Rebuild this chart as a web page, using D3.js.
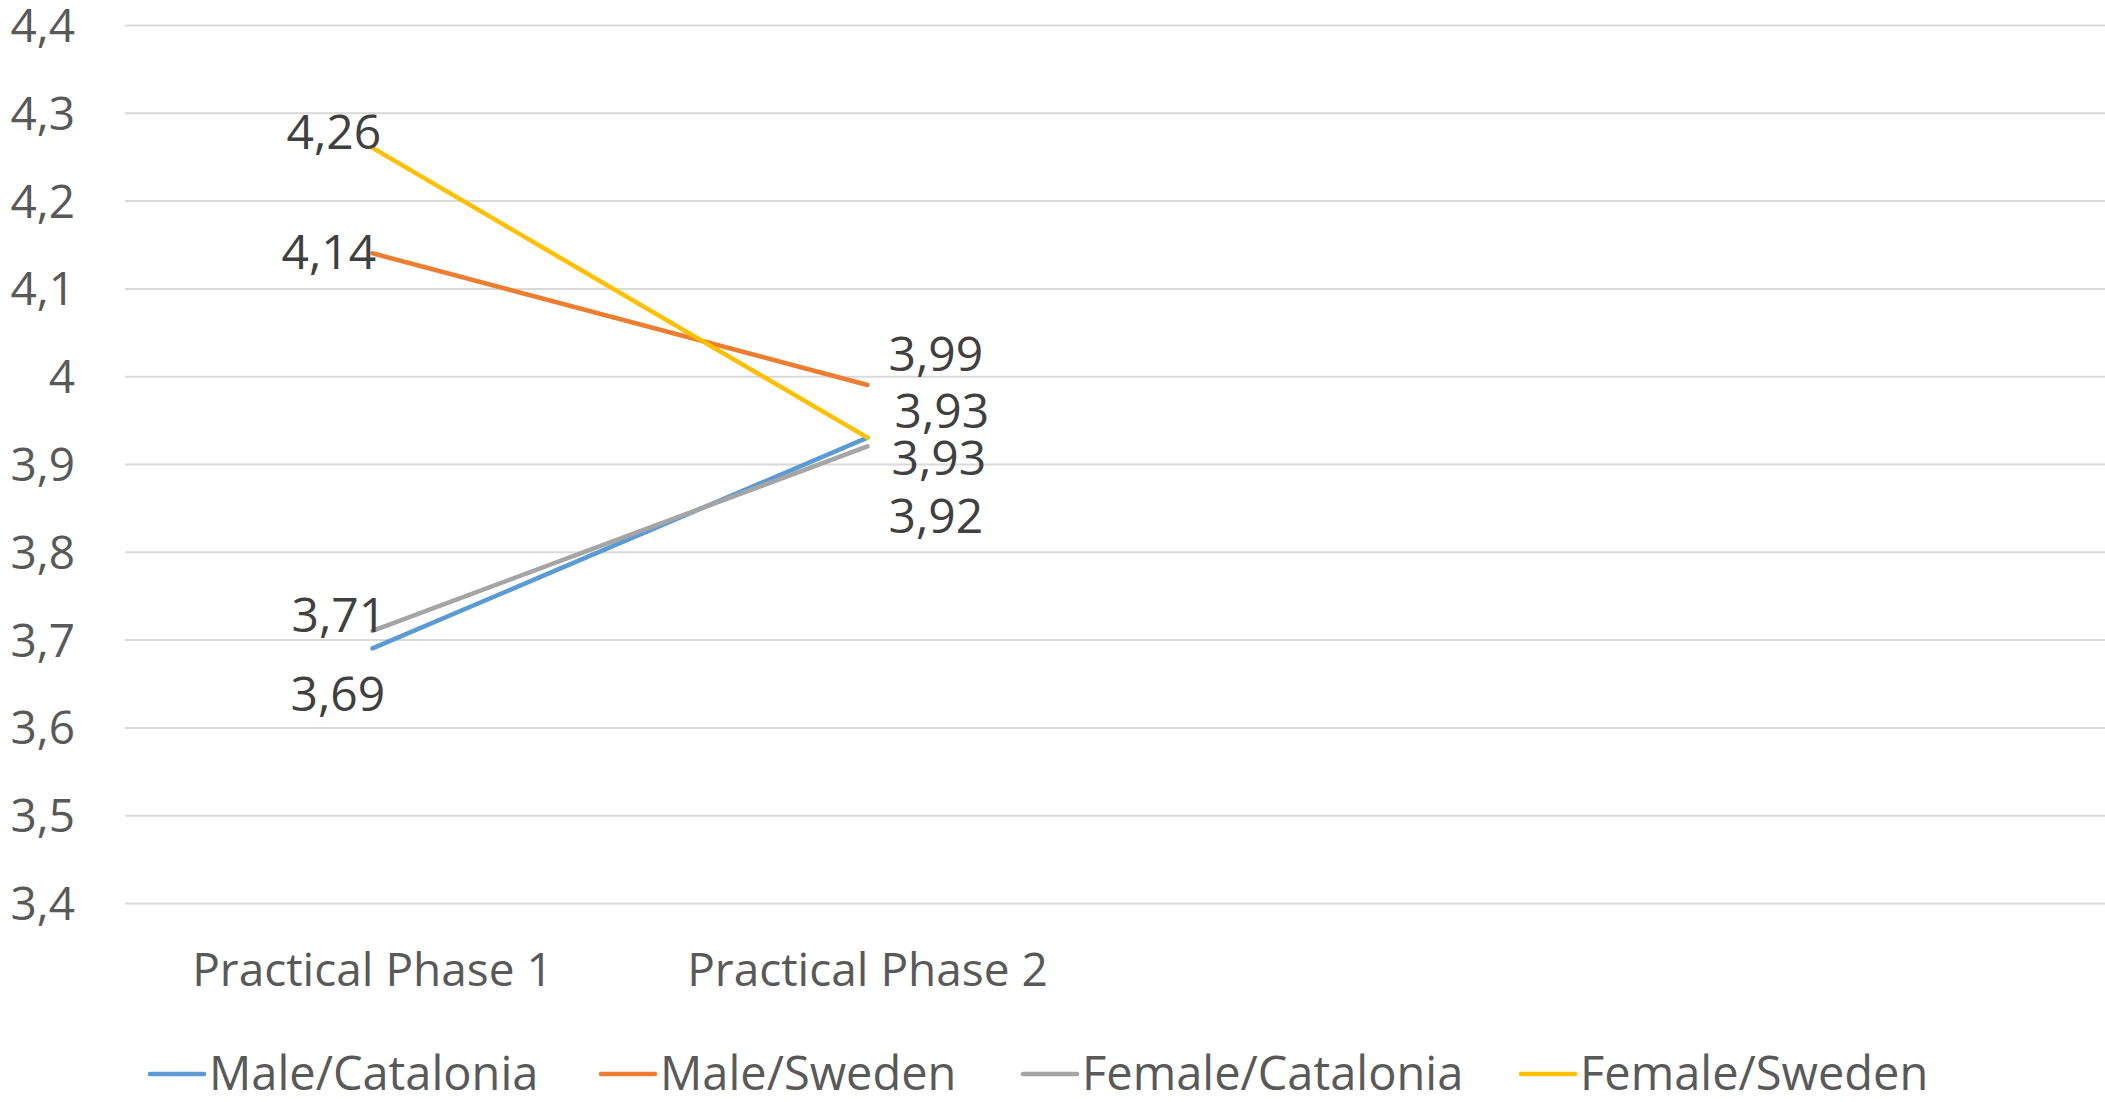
<!DOCTYPE html>
<html>
<head>
<meta charset="utf-8">
<script src="https://cdn.jsdelivr.net/npm/d3@7"></script>
<style>
  html, body { margin: 0; padding: 0; background: #fff; }
  svg { display: block; font-family: "Open Sans", sans-serif; }
</style>
</head>
<body>
<svg id="chart" width="2105" height="1102"></svg>
<script>
// Category axis: two phases shown, the axis reserves four slots
const categories = ["Practical Phase 1", "Practical Phase 2"];
const slotCount = 4;

// Series names and their mean scores per phase
const seriesNames = ["Male/Catalonia", "Male/Sweden", "Female/Catalonia", "Female/Sweden"];
const maleCatalonia = [3.69, 3.93];
const maleSweden = [4.14, 3.99];
const femaleCatalonia = [3.71, 3.92];
const femaleSweden = [4.26, 3.93];

// Value axis ticks
const yTicks = [3.4, 3.5, 3.6, 3.7, 3.8, 3.9, 4.0, 4.1, 4.2, 4.3, 4.4];

const seriesValues = [maleCatalonia, maleSweden, femaleCatalonia, femaleSweden];
const colors = ["#5b9bd5", "#ed7d31", "#a5a5a5", "#ffc000"];

// Label placement per series and phase: [dx, dy]
const labelPlacement = [
  [[-82, 46], [24, 21]],
  [[-91, -1], [21, -31]],
  [[-81, -16], [21, 70]],
  [[-86, -16], [27, -26]]
];

const svg = d3.select("#chart");
const plotLeft = 125, plotRight = 2105, plotTop = 25, plotBottom = 903;

const x = d3.scaleBand().domain(d3.range(slotCount)).range([plotLeft, plotRight]);
const y = d3.scaleLinear().domain([3.4, 4.4]).range([plotBottom, plotTop]);
const cx = i => x(i) + x.bandwidth() / 2;
const fmt = v => d3.format(".2~f")(v).replace(".", ",");

// Gridlines and value tick labels
const yAxis = d3.axisLeft(y)
  .tickValues(yTicks)
  .tickSize(-(plotRight - plotLeft))
  .tickPadding(50)
  .tickFormat(v => d3.format(".1~f")(v).replace(".", ","));

const gy = svg.append("g").attr("transform", `translate(${plotLeft},0)`).call(yAxis);
gy.select(".domain").remove();
gy.selectAll(".tick line").attr("stroke", "#d9d9d9").attr("stroke-width", 2);
gy.selectAll(".tick text")
  .attr("fill", "#595959")
  .attr("dy", "0.36em")
  .style("font-size", "46px")
  .style("font-family", "'Open Sans', sans-serif");

// Category labels
const xAxis = d3.axisBottom(x)
  .tickSize(0)
  .tickPadding(50)
  .tickFormat(i => categories[i] || "");
const gx = svg.append("g").attr("transform", `translate(0,${plotBottom})`).call(xAxis);
gx.select(".domain").remove();
gx.selectAll(".tick text")
  .attr("fill", "#595959")
  .style("font-size", "46px")
  .style("font-family", "'Open Sans', sans-serif");

// Series lines
const line = d3.line().x((d, i) => cx(i)).y(d => y(d));
seriesValues.forEach((vals, s) => {
  svg.append("path")
    .datum(vals)
    .attr("d", line)
    .attr("fill", "none")
    .attr("stroke", colors[s])
    .attr("stroke-width", 4.5)
    .attr("stroke-linecap", "round");
});

// Data labels
seriesValues.forEach((vals, s) => {
  vals.forEach((v, i) => {
    const [dx, dy] = labelPlacement[s][i];
    svg.append("text")
      .attr("x", cx(i) + dx)
      .attr("y", y(v) + dy)
      .attr("dy", "0.35em")
      .attr("fill", "#404040")
      .style("font-size", "48px")
      .text(fmt(v));
  });
});

// Legend
const legendX = [150, 601, 1023, 1521];
const legendY = 1074;
const legend = svg.append("g");
seriesNames.forEach((name, s) => {
  const g = legend.append("g").attr("transform", `translate(${legendX[s]},${legendY})`);
  g.append("line")
    .attr("x1", 0).attr("x2", 54)
    .attr("y1", 0).attr("y2", 0)
    .attr("stroke", colors[s])
    .attr("stroke-width", 4.5)
    .attr("stroke-linecap", "round");
  g.append("text")
    .attr("x", 59)
    .attr("y", 0)
    .attr("dy", "0.35em")
    .attr("fill", "#595959")
    .style("font-size", "47px")
    .text(name);
});
</script>
</body>
</html>
